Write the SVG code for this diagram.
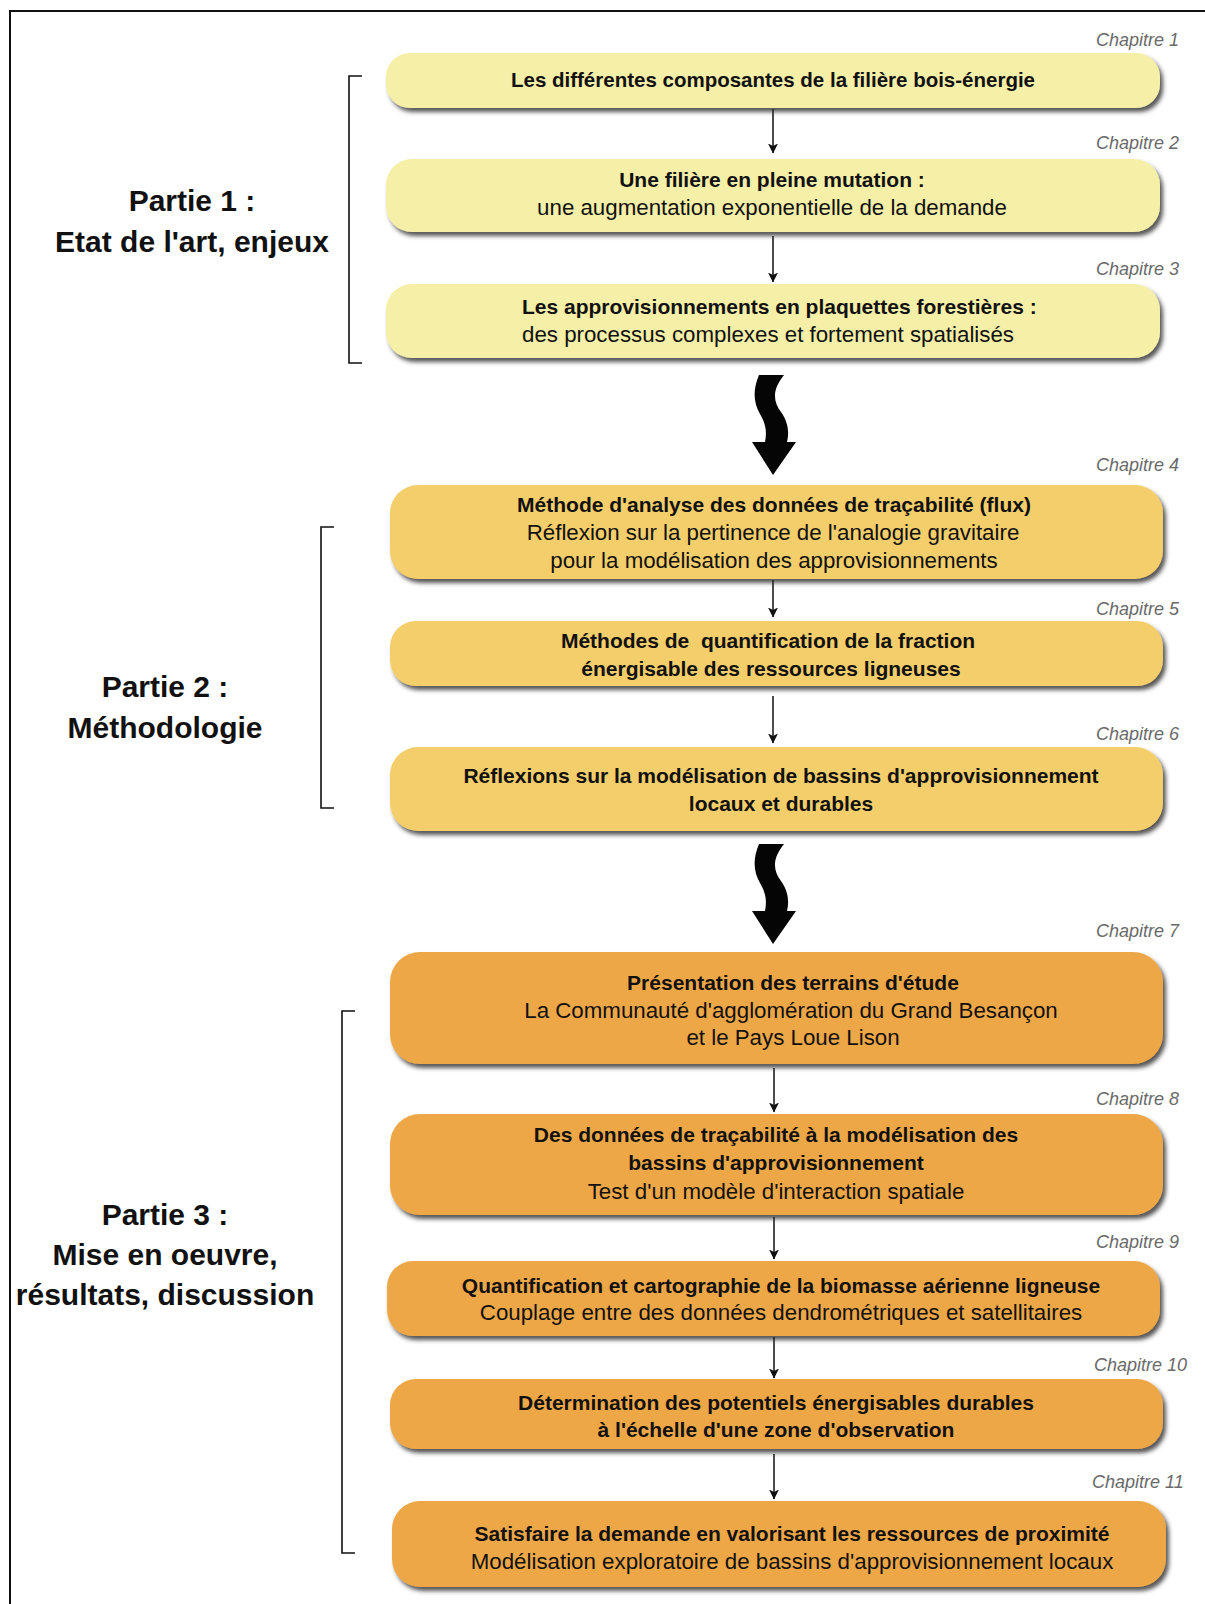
<svg xmlns="http://www.w3.org/2000/svg" width="1205" height="1604" viewBox="0 0 1205 1604">
<style>
.p1{fill:#F5EFA8}
.p2{fill:#F4CE6B}
.p3{fill:#EEA746}
.box{filter:url(#sh)}
.b{font-family:"Liberation Sans",Arial,sans-serif;font-weight:bold;font-size:21px;fill:#111;text-anchor:middle}
.r{font-family:"Liberation Sans",Arial,sans-serif;font-size:22.3px;fill:#111;text-anchor:middle}
.ch{font-family:"Liberation Sans",Arial,sans-serif;font-style:italic;font-size:18px;fill:#6a6a6a}
.part{font-family:"Liberation Sans",Arial,sans-serif;font-weight:bold;font-size:30px;fill:#111;text-anchor:middle}
.br{fill:none;stroke:#111;stroke-width:1.6}
.ln{stroke:#111;stroke-width:1.5;fill:none;marker-end:url(#ah)}
.wave{fill:#050505}
</style>
<defs>
<filter id="sh" x="-5%" y="-20%" width="112%" height="150%">
<feDropShadow dx="3" dy="4" stdDeviation="2.2" flood-color="#2a2a2a" flood-opacity="0.8"/>
</filter>
<marker id="ah" viewBox="0 0 10 16" refX="9.5" refY="8" markerWidth="10" markerHeight="16" markerUnits="userSpaceOnUse" orient="auto">
<path d="M0,3 L10,8 L0,13 L2.5,8 Z" fill="#111"/>
</marker>
</defs>
<rect width="1205" height="1604" fill="#fff"/>
<path d="M10,1604 L10,11 L1205,11" fill="none" stroke="#111" stroke-width="2"/>

<g id="brackets">
<path class="br" d="M362,76 L349,76 L349,363 L362,363"/>
<path class="br" d="M334,527 L321,527 L321,808 L334,808"/>
<path class="br" d="M355,1011 L342,1011 L342,1553 L355,1553"/>
</g>

<g id="parts">
<g id="partie1"><text class="part" x="192" y="211">Partie 1 :</text><text class="part" x="192" y="252">Etat de l'art, enjeux</text></g>
<g id="partie2"><text class="part" x="165" y="697">Partie 2 :</text><text class="part" x="165" y="738">Méthodologie</text></g>
<g id="partie3"><text class="part" x="165" y="1225">Partie 3 :</text><text class="part" x="165" y="1265">Mise en oeuvre,</text><text class="part" x="165" y="1305">résultats, discussion</text></g>
</g>

<g id="connectors">
<path class="ln" d="M773,109 L773,153"/>
<path class="ln" d="M773,236 L773,282"/>
<path class="ln" d="M773,580 L773,617"/>
<path class="ln" d="M773,696 L773,743"/>
<path class="ln" d="M774,1068 L774,1112"/>
<path class="ln" d="M774,1217 L774,1259"/>
<path class="ln" d="M774,1337 L774,1378"/>
<path class="ln" d="M774,1454 L774,1499"/>
<path class="wave" d="M759,375 L784,375 C772,390 773,401 781,412 C789,423 789,434 787,442 L796,442 L773,475 L752,442 L765,442 C767,432 766,424 760,414 C753,402 753,389 759,375 Z"/>
<path class="wave" d="M759,844 L784,844 C772,859 773,870 781,881 C789,892 789,903 787,911 L796,911 L773,944 L752,911 L765,911 C767,901 766,893 760,883 C753,871 753,858 759,844 Z"/>
</g>

<g id="ch1"><rect class="box p1" x="386" y="53" width="774" height="55" rx="24"/><text class="ch" x="1096" y="46">Chapitre 1</text><text class="b" x="773" y="87" style="font-size:20.5px">Les différentes composantes de la filière bois-énergie</text></g>
<g id="ch2"><rect class="box p1" x="386" y="159" width="774" height="73" rx="26"/><text class="ch" x="1096" y="149">Chapitre 2</text><text class="b" x="772" y="187">Une filière en pleine mutation :</text><text class="r" x="772" y="215">une augmentation exponentielle de la demande</text></g>
<g id="ch3"><rect class="box p1" x="386" y="284" width="774" height="74" rx="26"/><text class="ch" x="1096" y="275">Chapitre 3</text><text class="b" x="522" y="314" style="text-anchor:start">Les approvisionnements en plaquettes forestières :</text><text class="r" x="522" y="342" style="text-anchor:start">des processus complexes et fortement spatialisés</text></g>
<g id="ch4"><rect class="box p2" x="390" y="485" width="773" height="94" rx="28"/><text class="ch" x="1096" y="471">Chapitre 4</text><text class="b" x="774" y="512">Méthode d'analyse des données de traçabilité (flux)</text><text class="r" x="773" y="540">Réflexion sur la pertinence de l'analogie gravitaire</text><text class="r" x="774" y="568">pour la modélisation des approvisionnements</text></g>
<g id="ch5"><rect class="box p2" x="390" y="621" width="773" height="65" rx="26"/><text class="ch" x="1096" y="615">Chapitre 5</text><text class="b" x="768" y="648" xml:space="preserve">Méthodes de  quantification de la fraction</text><text class="b" x="771" y="676">énergisable des ressources ligneuses</text></g>
<g id="ch6"><rect class="box p2" x="390" y="747" width="773" height="84" rx="28"/><text class="ch" x="1096" y="740">Chapitre 6</text><text class="b" x="781" y="783">Réflexions sur la modélisation de bassins d'approvisionnement</text><text class="b" x="781" y="811">locaux et durables</text></g>
<g id="ch7"><rect class="box p3" x="390" y="952" width="773" height="112" rx="30"/><text class="ch" x="1096" y="937">Chapitre 7</text><text class="b" x="793" y="990">Présentation des terrains d'étude</text><text class="r" x="791" y="1018">La Communauté d'agglomération du Grand Besançon</text><text class="r" x="793" y="1045">et le Pays Loue Lison</text></g>
<g id="ch8"><rect class="box p3" x="390" y="1114" width="773" height="101" rx="30"/><text class="ch" x="1096" y="1105">Chapitre 8</text><text class="b" x="776" y="1142">Des données de traçabilité à la modélisation des</text><text class="b" x="776" y="1170">bassins d'approvisionnement</text><text class="r" x="776" y="1199">Test d'un modèle d'interaction spatiale</text></g>
<g id="ch9"><rect class="box p3" x="387" y="1261" width="773" height="75" rx="26"/><text class="ch" x="1096" y="1248">Chapitre 9</text><text class="b" x="781" y="1293">Quantification et cartographie de la biomasse aérienne ligneuse</text><text class="r" x="781" y="1320">Couplage entre des données dendrométriques et satellitaires</text></g>
<g id="ch10"><rect class="box p3" x="390" y="1379" width="773" height="70" rx="26"/><text class="ch" x="1094" y="1371">Chapitre 10</text><text class="b" x="776" y="1410">Détermination des potentiels énergisables durables</text><text class="b" x="776" y="1437">à l'échelle d'une zone d'observation</text></g>
<g id="ch11"><rect class="box p3" x="392" y="1501" width="774" height="86" rx="28"/><text class="ch" x="1092" y="1488">Chapitre 11</text><text class="b" x="792" y="1541">Satisfaire la demande en valorisant les ressources de proximité</text><text class="r" x="792" y="1569">Modélisation exploratoire de bassins d'approvisionnement locaux</text></g>
</svg>
